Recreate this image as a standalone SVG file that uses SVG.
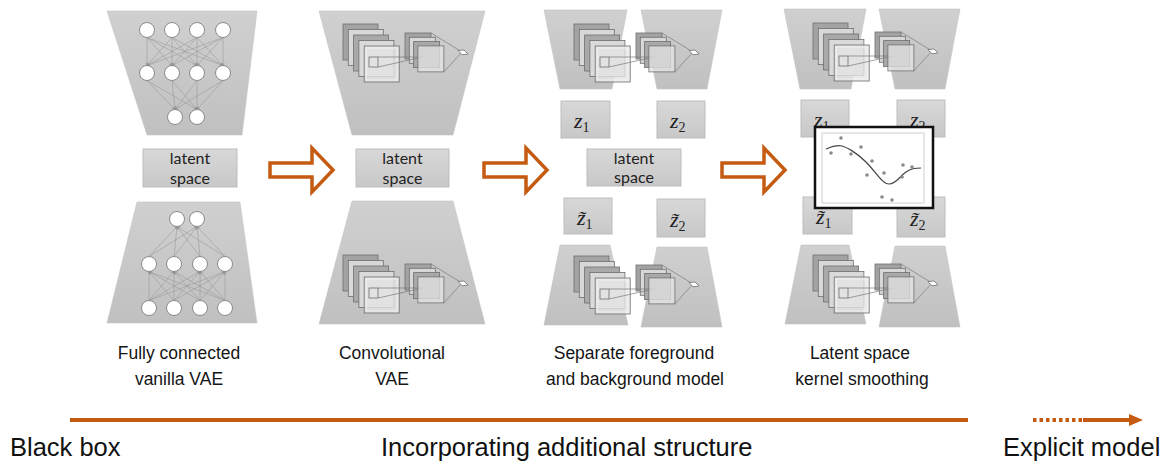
<svg xmlns="http://www.w3.org/2000/svg" xmlns:xlink="http://www.w3.org/1999/xlink" width="1171" height="464" viewBox="0 0 1171 464">
<style>
.trap{fill:url(#tg);stroke:#c4c4c4;stroke-width:0.6}
.box{fill:url(#bg);stroke:#bdbdbd;stroke-width:1}
.nn{fill:#fff;stroke:#8a8a8a;stroke-width:1}
.ed{stroke:#969696;stroke-width:0.55;fill:none;marker-end:url(#ah)}
.lat{font-family:Lato,"Open Sans",sans-serif;font-size:16px;fill:#222;text-anchor:middle}
.zt{font-family:"Liberation Serif",serif;font-style:italic;font-size:22px;fill:#222}
.zs{font-size:14px;font-style:normal}
.cap{font-family:"Liberation Sans",Arial,sans-serif;font-size:17.5px;fill:#151515;text-anchor:middle}
.big{font-family:"Liberation Sans",Arial,sans-serif;font-size:25.5px;fill:#111}
.hol{fill:#fff;stroke:#C55A11;stroke-width:3.5;stroke-linejoin:miter}
.sq{stroke:#6e6e6e;stroke-width:0.8}
.thin{stroke:#7a7a7a;stroke-width:0.7;fill:none}
</style>
<defs>
<linearGradient id="tg" x1="0" y1="0" x2="0" y2="1"><stop offset="0" stop-color="#d0d0d0"/><stop offset="1" stop-color="#c0c0c0"/></linearGradient>
<linearGradient id="bg" x1="0" y1="0" x2="0" y2="1"><stop offset="0" stop-color="#d8d8d8"/><stop offset="1" stop-color="#c8c8c8"/></linearGradient>
<marker id="ah" markerUnits="userSpaceOnUse" markerWidth="4" markerHeight="4" refX="3" refY="1.5" orient="auto"><path d="M0,0 L3,1.5 L0,3" fill="none" stroke="#8e8e8e" stroke-width="0.6"/></marker>
<g id="conv">
<rect class="sq" x="0" y="0" width="35" height="36" fill="#a3a3a3"/>
<rect class="sq" x="5.3" y="5.5" width="35" height="36" fill="#d8d8d8"/>
<rect class="sq" x="10.6" y="11" width="35" height="36" fill="#a9a9a9"/>
<rect class="sq" x="15.9" y="16.5" width="35" height="36" fill="#dadada"/>
<rect class="sq" x="21.2" y="22" width="35" height="36" fill="#e4e4e4" fill-opacity="0.8"/>
<rect x="23.2" y="24" width="31" height="32" fill="none" stroke="#f5f5f5" stroke-width="0.8"/>
<rect class="sq" x="26" y="33" width="9" height="10" fill="none"/>
<rect class="sq" x="62" y="9" width="26" height="26" fill="#a3a3a3"/>
<rect class="sq" x="66.3" y="13.3" width="26" height="26" fill="#d8d8d8"/>
<rect class="sq" x="70.6" y="17.6" width="26" height="26" fill="#a9a9a9"/>
<line class="thin" x1="35" y1="33" x2="80" y2="33"/>
<line class="thin" x1="35" y1="43" x2="80" y2="33"/>
<rect class="sq" x="74.9" y="21.9" width="26" height="26" fill="#e4e4e4" fill-opacity="0.75"/>
<line class="thin" x1="88" y1="9" x2="119" y2="28"/>
<line class="thin" x1="100.9" y1="47.9" x2="119" y2="28"/>
<polygon points="115,26.5 121,26 125,30 119,30.8" fill="#fff" stroke="#6e6e6e" stroke-width="0.8"/>
</g>
</defs>
<rect width="1171" height="464" fill="#fff"/>

<g id="panel1-encoder">
<polygon class="trap" points="107,11 257,11 242,135 147,135"/>
<g>
<line class="ed" x1="147" y1="37.5" x2="147" y2="65.5"/><line class="ed" x1="147" y1="37.5" x2="172" y2="65.5"/><line class="ed" x1="147" y1="37.5" x2="197" y2="65.5"/><line class="ed" x1="147" y1="37.5" x2="223" y2="65.5"/>
<line class="ed" x1="172" y1="37.5" x2="147" y2="65.5"/><line class="ed" x1="172" y1="37.5" x2="172" y2="65.5"/><line class="ed" x1="172" y1="37.5" x2="197" y2="65.5"/><line class="ed" x1="172" y1="37.5" x2="223" y2="65.5"/>
<line class="ed" x1="197" y1="37.5" x2="147" y2="65.5"/><line class="ed" x1="197" y1="37.5" x2="172" y2="65.5"/><line class="ed" x1="197" y1="37.5" x2="197" y2="65.5"/><line class="ed" x1="197" y1="37.5" x2="223" y2="65.5"/>
<line class="ed" x1="223" y1="37.5" x2="147" y2="65.5"/><line class="ed" x1="223" y1="37.5" x2="172" y2="65.5"/><line class="ed" x1="223" y1="37.5" x2="197" y2="65.5"/><line class="ed" x1="223" y1="37.5" x2="223" y2="65.5"/>
<line class="ed" x1="147" y1="80.5" x2="175" y2="109.5"/><line class="ed" x1="147" y1="80.5" x2="197" y2="109.5"/>
<line class="ed" x1="172" y1="80.5" x2="175" y2="109.5"/><line class="ed" x1="172" y1="80.5" x2="197" y2="109.5"/>
<line class="ed" x1="197" y1="80.5" x2="175" y2="109.5"/><line class="ed" x1="197" y1="80.5" x2="197" y2="109.5"/>
<line class="ed" x1="223" y1="80.5" x2="175" y2="109.5"/><line class="ed" x1="223" y1="80.5" x2="197" y2="109.5"/>
</g>
<circle class="nn" cx="147" cy="30" r="7.5"/><circle class="nn" cx="172" cy="30" r="7.5"/><circle class="nn" cx="197" cy="30" r="7.5"/><circle class="nn" cx="223" cy="30" r="7.5"/>
<circle class="nn" cx="147" cy="73" r="7.5"/><circle class="nn" cx="172" cy="73" r="7.5"/><circle class="nn" cx="197" cy="73" r="7.5"/><circle class="nn" cx="223" cy="73" r="7.5"/>
<circle class="nn" cx="175" cy="117" r="7.5"/><circle class="nn" cx="197" cy="117" r="7.5"/>
</g>
<g id="panel1-latent">
<rect class="box" x="143" y="149" width="94" height="38"/>
<text class="lat" x="190" y="164">latent</text><text class="lat" x="190" y="184">space</text>
</g>
<g id="panel1-decoder">
<polygon class="trap" points="137,202 240,202 257,323 107,323"/>
<g>
<line class="ed" x1="149" y1="300.5" x2="149" y2="271.5"/><line class="ed" x1="149" y1="300.5" x2="174" y2="271.5"/><line class="ed" x1="149" y1="300.5" x2="200" y2="271.5"/><line class="ed" x1="149" y1="300.5" x2="225" y2="271.5"/>
<line class="ed" x1="174" y1="300.5" x2="149" y2="271.5"/><line class="ed" x1="174" y1="300.5" x2="174" y2="271.5"/><line class="ed" x1="174" y1="300.5" x2="200" y2="271.5"/><line class="ed" x1="174" y1="300.5" x2="225" y2="271.5"/>
<line class="ed" x1="200" y1="300.5" x2="149" y2="271.5"/><line class="ed" x1="200" y1="300.5" x2="174" y2="271.5"/><line class="ed" x1="200" y1="300.5" x2="200" y2="271.5"/><line class="ed" x1="200" y1="300.5" x2="225" y2="271.5"/>
<line class="ed" x1="225" y1="300.5" x2="149" y2="271.5"/><line class="ed" x1="225" y1="300.5" x2="174" y2="271.5"/><line class="ed" x1="225" y1="300.5" x2="200" y2="271.5"/><line class="ed" x1="225" y1="300.5" x2="225" y2="271.5"/>
<line class="ed" x1="149" y1="256.5" x2="177" y2="226.5"/><line class="ed" x1="149" y1="256.5" x2="197" y2="226.5"/>
<line class="ed" x1="174" y1="256.5" x2="177" y2="226.5"/><line class="ed" x1="174" y1="256.5" x2="197" y2="226.5"/>
<line class="ed" x1="200" y1="256.5" x2="177" y2="226.5"/><line class="ed" x1="200" y1="256.5" x2="197" y2="226.5"/>
<line class="ed" x1="225" y1="256.5" x2="177" y2="226.5"/><line class="ed" x1="225" y1="256.5" x2="197" y2="226.5"/>
</g>
<circle class="nn" cx="177" cy="219" r="7.5"/><circle class="nn" cx="197" cy="219" r="7.5"/>
<circle class="nn" cx="149" cy="264" r="7.5"/><circle class="nn" cx="174" cy="264" r="7.5"/><circle class="nn" cx="200" cy="264" r="7.5"/><circle class="nn" cx="225" cy="264" r="7.5"/>
<circle class="nn" cx="149" cy="308" r="7.5"/><circle class="nn" cx="174" cy="308" r="7.5"/><circle class="nn" cx="200" cy="308" r="7.5"/><circle class="nn" cx="225" cy="308" r="7.5"/>
</g>

<g id="panel2-encoder">
<polygon class="trap" points="319,11 485,11 453,135 352,135"/>
<use xlink:href="#conv" transform="translate(343,24)"/>
</g>
<g id="panel2-latent">
<rect class="box" x="356" y="149" width="93" height="38"/>
<text class="lat" x="402.5" y="164">latent</text><text class="lat" x="402.5" y="184">space</text>
</g>
<g id="panel2-decoder">
<polygon class="trap" points="352,201 453,201 485,324 319,324"/>
<use xlink:href="#conv" transform="translate(343,255)"/>
</g>

<g id="panel3-encoders">
<polygon class="trap" points="544,10 627,10 612,89 560,89"/>
<polygon class="trap" points="641,10 722,10 707,89 657,89"/>
<use xlink:href="#conv" transform="translate(574,24)"/>
</g>
<g id="panel3-z1"><rect class="box" x="561" y="101" width="49" height="37"/><text class="zt" x="574" y="128">z<tspan class="zs" dy="4">1</tspan></text></g>
<g id="panel3-z2"><rect class="box" x="657" y="101" width="48" height="37"/><text class="zt" x="670" y="128">z<tspan class="zs" dy="4">2</tspan></text></g>
<g id="panel3-latent">
<rect class="box" x="587" y="149" width="94" height="37"/>
<text class="lat" x="634" y="164">latent</text><text class="lat" x="634" y="183">space</text>
</g>
<g id="panel3-zt1"><rect class="box" x="564" y="198" width="48" height="36"/><text class="zt" x="577" y="225">z̃<tspan class="zs" dy="4">1</tspan></text></g>
<g id="panel3-zt2"><rect class="box" x="657" y="199" width="48" height="38"/><text class="zt" x="670" y="227">z̃<tspan class="zs" dy="4">2</tspan></text></g>
<g id="panel3-decoders">
<polygon class="trap" points="560,245 610,245 628,325 544,325"/>
<polygon class="trap" points="657,247 707,247 722,327 641,327"/>
<use xlink:href="#conv" transform="translate(574,256)"/>
</g>

<g id="panel4-encoders">
<polygon class="trap" points="784,9 866,9 851,89 800,89"/>
<polygon class="trap" points="879,9 960,9 945,89 895,89"/>
<use xlink:href="#conv" transform="translate(813,23)"/>
</g>
<g id="panel4-z1"><rect class="box" x="801" y="100" width="48" height="37"/><text class="zt" x="814" y="127">z<tspan class="zs" dy="4">1</tspan></text></g>
<g id="panel4-z2"><rect class="box" x="897" y="100" width="48" height="37"/><text class="zt" x="910" y="127">z<tspan class="zs" dy="4">2</tspan></text></g>
<g id="panel4-zt1"><rect class="box" x="803" y="197" width="49" height="37"/><text class="zt" x="816" y="224">z̃<tspan class="zs" dy="4">1</tspan></text></g>
<g id="panel4-zt2"><rect class="box" x="897" y="197" width="48" height="40"/><text class="zt" x="910" y="226">z̃<tspan class="zs" dy="4">2</tspan></text></g>
<g id="panel4-decoders">
<polygon class="trap" points="801,245 849,245 866,324 785,324"/>
<polygon class="trap" points="895,246 945,246 960,327 879,327"/>
<use xlink:href="#conv" transform="translate(813,255)"/>
</g>
<g id="panel4-plot">
<rect x="815" y="127" width="118" height="81" fill="#fff" stroke="#111" stroke-width="2.5"/>
<rect x="822" y="133" width="102" height="70" fill="none" stroke="#d0d0d0" stroke-width="1"/>
<path d="M826,149 C833,146 838,145 842,146 S856,152 866,162 S882,184 889,184 S900,176 906,172 S916,168 921,168" fill="none" stroke="#444" stroke-width="1.2"/>
<g fill="#8a8a8a">
<circle cx="831" cy="153" r="1.8"/><circle cx="841" cy="138" r="1.8"/><circle cx="851" cy="154" r="1.8"/><circle cx="861" cy="147" r="1.8"/>
<circle cx="872" cy="161" r="1.8"/><circle cx="867" cy="175" r="1.8"/><circle cx="884" cy="173" r="1.8"/><circle cx="902" cy="177" r="1.8"/>
<circle cx="903" cy="165" r="1.8"/><circle cx="912" cy="167" r="1.8"/><circle cx="882" cy="197" r="1.8"/><circle cx="892" cy="200" r="1.8"/>
</g>
</g>

<g id="connectors">
<polygon class="hol" points="270,163 312,163 312,148 333,170 312,192 312,177 270,177"/>
<polygon class="hol" points="484,163 526,163 526,148 547,170 526,192 526,177 484,177"/>
<polygon class="hol" points="722,163 764,163 764,148 785,170 764,192 764,177 722,177"/>
<line x1="70" y1="420" x2="968" y2="420" stroke="#C55A11" stroke-width="4"/>
<line x1="1033" y1="420" x2="1083" y2="420" stroke="#C55A11" stroke-width="4" stroke-dasharray="3.5,3"/>
<line x1="1083" y1="420" x2="1131" y2="420" stroke="#C55A11" stroke-width="4"/>
<polygon points="1129,414 1143,420 1129,426" fill="#C55A11"/>
</g>

<g id="captions">
<text class="cap" x="179" y="359">Fully connected</text><text class="cap" x="179" y="385">vanilla VAE</text>
<text class="cap" x="392" y="359">Convolutional</text><text class="cap" x="392" y="385">VAE</text>
<text class="cap" x="634" y="359">Separate foreground</text><text class="cap" x="635" y="385">and background model</text>
<text class="cap" x="860" y="359">Latent space</text><text class="cap" x="862" y="385">kernel smoothing</text>
<text class="big" x="10" y="456">Black box</text>
<text class="big" x="381" y="456">Incorporating additional structure</text>
<text class="big" x="1003" y="456">Explicit model</text>
</g>
</svg>
